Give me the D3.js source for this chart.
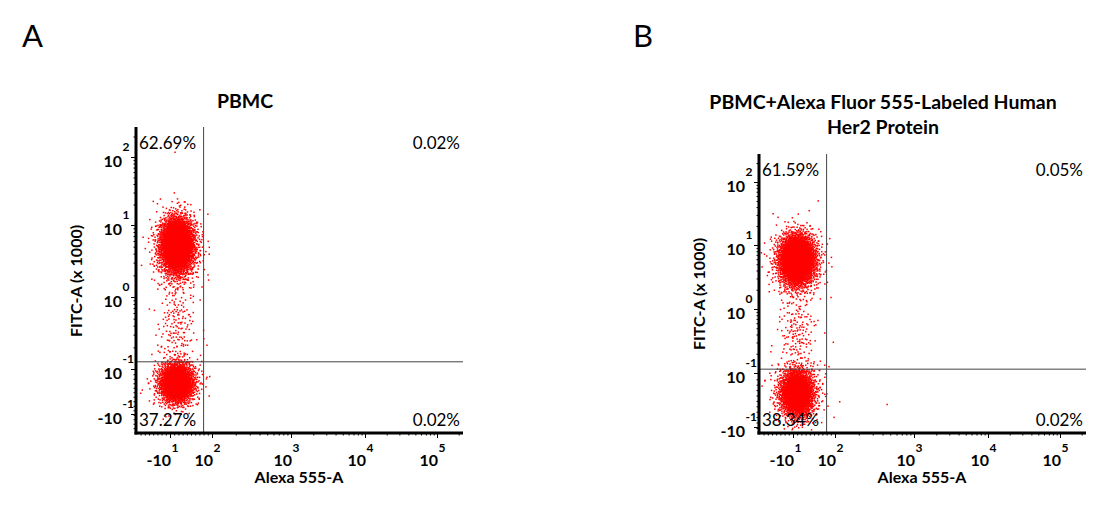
<!DOCTYPE html>
<html><head><meta charset="utf-8">
<script src="https://cdn.jsdelivr.net/npm/d3@7"></script>
<style>
body{margin:0;background:#fff}
svg{display:block}
text{font-family:Lato,"Open Sans",sans-serif;fill:#000}
</style>
</head><body>
<svg id="chart" width="1114" height="508"></svg>
<script>
// ================= DATA =================
// Axis values are in display units of the biexponential scale (decades; 1.5 = -10^1, -1.6 = -10^-1)
const panelLetters = ["A", "B"];
const panelTitles = [["PBMC"], ["PBMC+Alexa Fluor 555-Labeled Human", "Her2 Protein"]];
const xAxisTitle = "Alexa 555-A";
const yAxisTitle = "FITC-A (x 1000)";

const xTickValues = [1.5, 2, 3, 4, 5];
const xTickBase   = ["-10", "10", "10", "10", "10"];
const xTickExp    = ["1", "2", "3", "4", "5"];
const yTickValues = [-1.6, -1, 0, 1, 2];
const yTickBase   = ["-10", "10", "10", "10", "10"];
const yTickExp    = ["-1", "-1", "0", "1", "2"];

// quadrant gates (display units)
const gateXValues = [1.90, 1.90];
const gateYValues = [-0.90, -0.94];

// quadrant statistics: upper-left, upper-right, lower-left, lower-right
const quadrantsA = ["62.69%", "0.02%", "37.27%", "0.02%"];
const quadrantsB = ["61.59%", "0.05%", "38.34%", "0.02%"];

// event populations: [centre x, centre y, spread x, spread y, events]
const populationsA = [
  [1.585, 0.72, 0.10, 0.19, 3300],
  [1.585, 0.64, 0.14, 0.28, 480],
  [1.585, -0.40, 0.11, 0.32, 170],
  [1.58, -1.19, 0.10, 0.13, 2100],
  [1.58, -1.16, 0.145, 0.19, 300]
];
const populationsB = [
  [1.55, 0.77, 0.105, 0.19, 3300],
  [1.55, 0.70, 0.15, 0.28, 480],
  [1.55, -0.40, 0.11, 0.32, 170],
  [1.55, -1.23, 0.10, 0.13, 2200],
  [1.55, -1.20, 0.15, 0.19, 300]
];
// isolated events [x, y]
const outliersA = [[1.56, 2.07], [1.18, 0.83], [1.67, 1.34], [1.94, -0.67], [1.94, -1.11], [1.17, -1.28]];
const outliersB = [[1.80, 1.70], [1.98, -0.52], [2.06, -1.32], [2.66, -1.35]];

// ================= LAYOUT =================
const panels = [
  {ox: 136, oy: 433, top: 127, right: 463, yR: [414, 369, 297, 225, 157],
   letterX: 22, titleX: 245, titleY: [108], yLabX: 75, yLabY: 281, xLabX: 299,
   gateX: gateXValues[0], gateY: gateYValues[0], quads: quadrantsA, pops: populationsA, outs: outliersA, seed: 1},
  {ox: 759, oy: 433, top: 154, right: 1086, yR: [427, 373, 309, 245, 182],
   letterX: 633, titleX: 883, titleY: [109, 134], yLabX: 698, yLabY: 294, xLabX: 922,
   gateX: gateXValues[1], gateY: gateYValues[1], quads: quadrantsB, pops: populationsB, outs: outliersB, seed: 2}
];
const xOffsets = [34, 76, 155, 229, 301];

const svg = d3.select("#chart");

// low-discrepancy sequence used to spread each population's events
function halton(i, b) { let f = 1, r = 0; while (i > 0) { f /= b; r += f * (i % b); i = Math.floor(i / b); } return r; }

panels.forEach((p, pi) => {
  const g = svg.append("g");
  const x = d3.scaleLinear().domain(xTickValues).range(xOffsets.map(o => p.ox + o));
  const y = d3.scaleLinear().domain(yTickValues).range(p.yR);

  // panel letter
  g.append("text").attr("x", p.letterX).attr("y", 47).style("font-size", "31px").text(panelLetters[pi]);
  // title
  panelTitles[pi].forEach((t, k) => g.append("text").attr("x", p.titleX).attr("y", p.titleY[k])
    .attr("text-anchor", "middle").style("font-size", "19.5px").style("font-weight", "bold").text(t));

  // events
  const clip = "clip" + pi;
  svg.append("clipPath").attr("id", clip).append("rect")
    .attr("x", p.ox + 1).attr("y", p.top).attr("width", p.right - p.ox).attr("height", p.oy - p.top - 1);
  const dots = g.append("g").attr("clip-path", `url(#${clip})`);
  const pts = [];
  p.pops.forEach((pop, k) => {
    const [cx, cy, sx, sy, n] = pop;
    const off = 1 + k * 9173 + p.seed * 40009;
    for (let i = 0; i < n; i++) {
      const u1 = halton(i + off, 2), u2 = halton(i + off, 3);
      const r = Math.sqrt(-2 * Math.log(u1));
      pts.push([cx + sx * r * Math.cos(2 * Math.PI * u2), cy + sy * r * Math.sin(2 * Math.PI * u2)]);
    }
  });
  p.outs.forEach(o => pts.push(o));
  dots.selectAll("rect").data(pts).join("rect")
    .attr("x", d => x(d[0]) - 0.75).attr("y", d => y(d[1]) - 0.75)
    .attr("width", 1.5).attr("height", 1.5).attr("fill", "#ff0000");

  // gates
  g.append("line").attr("x1", x(p.gateX)).attr("x2", x(p.gateX)).attr("y1", p.top).attr("y2", p.oy)
    .attr("stroke", "#444").attr("stroke-width", 1);
  g.append("line").attr("x1", p.ox).attr("x2", p.right).attr("y1", y(p.gateY)).attr("y2", y(p.gateY))
    .attr("stroke", "#444").attr("stroke-width", 1);

  // minor ticks
  const xMinor = [];
  for (let v = 1.15; v < 1.98; v += 0.05) xMinor.push(v);
  for (let d = 2; d <= 5; d++) for (let k = 2; k <= 9; k++) { const v = d + Math.log10(k); if (x(v) < p.right - 2) xMinor.push(v); }
  const yMinor = [];
  for (let v = -1.85; v < -1.02; v += 0.06) if (y(v) < p.oy - 2) yMinor.push(v);
  for (let d = -1; d <= 2; d++) for (let k = 2; k <= 9; k++) { const v = d + Math.log10(k); if (y(v) > p.top + 2) yMinor.push(v); }

  const xa = g.append("g").attr("transform", `translate(0,${p.oy})`);
  xa.call(d3.axisBottom(x).tickValues(xMinor).tickSize(2.5).tickFormat(""));
  xa.append("g").call(d3.axisBottom(x).tickValues(xTickValues).tickSize(5).tickFormat(""));
  const ya = g.append("g").attr("transform", `translate(${p.ox},0)`);
  ya.call(d3.axisLeft(y).tickValues(yMinor).tickSize(2.5).tickFormat(""));
  ya.append("g").call(d3.axisLeft(y).tickValues(yTickValues).tickSize(5).tickFormat(""));
  g.selectAll(".domain").remove();
  g.selectAll(".tick line").attr("stroke", "#000").attr("stroke-width", 1);

  // axis lines
  g.append("line").attr("x1", p.ox - 1.5).attr("x2", p.right).attr("y1", p.oy).attr("y2", p.oy)
    .attr("stroke", "#000").attr("stroke-width", 3);
  g.append("line").attr("x1", p.ox).attr("x2", p.ox).attr("y1", p.top).attr("y2", p.oy + 1.5)
    .attr("stroke", "#000").attr("stroke-width", 3);

  // tick labels
  xTickValues.forEach((v, k) => {
    g.append("text").attr("x", x(v) + 1).attr("y", p.oy + 33).attr("text-anchor", "end")
      .style("font-size", "16px").style("font-weight", "bold").text(xTickBase[k]);
    g.append("text").attr("x", x(v) + 1.5).attr("y", p.oy + 19).attr("text-anchor", "start")
      .style("font-size", "12px").style("font-weight", "bold").text(xTickExp[k]);
  });
  yTickValues.forEach((v, k) => {
    g.append("text").attr("x", p.ox - 14).attr("y", y(v) + 10).attr("text-anchor", "end")
      .style("font-size", "16px").style("font-weight", "bold").text(yTickBase[k]);
    g.append("text").attr("x", p.ox - 13.5).attr("y", y(v) - 6).attr("text-anchor", "start")
      .style("font-size", "12px").style("font-weight", "bold").text(yTickExp[k]);
  });

  // axis titles
  g.append("text").attr("x", p.xLabX).attr("y", 483).attr("text-anchor", "middle")
    .style("font-size", "16px").style("font-weight", "bold").text(xAxisTitle);
  g.append("text").attr("transform", `translate(${p.yLabX},${p.yLabY}) rotate(-90)`)
    .attr("text-anchor", "middle").attr("dominant-baseline", "central")
    .style("font-size", "16px").style("font-weight", "bold").text(yAxisTitle);

  // quadrant statistics
  const qpos = [[p.ox + 3, p.top + 22, "start"], [p.right - 3, p.top + 22, "end"],
                [p.ox + 3, p.oy - 7, "start"], [p.right - 3, p.oy - 7, "end"]];
  p.quads.forEach((t, k) => g.append("text").attr("x", qpos[k][0]).attr("y", qpos[k][1])
    .attr("text-anchor", qpos[k][2]).style("font-size", "17px").text(t));
});
</script>
</body></html>
